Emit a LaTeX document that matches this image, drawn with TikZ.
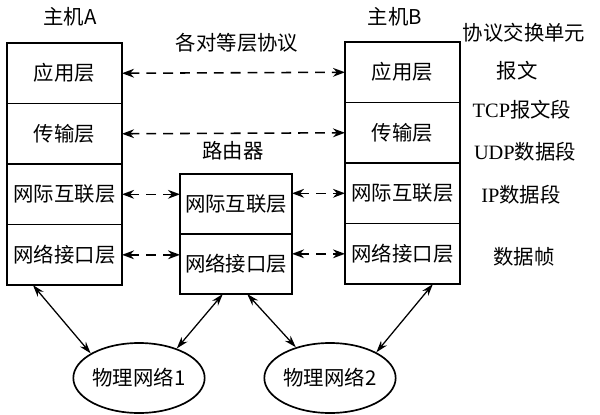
\documentclass[tikz,border=0pt]{standalone}
\usepackage{fontspec}
\setmainfont{Liberation Serif}
\newfontfamily\cjk{Noto Sans CJK SC}
\usetikzlibrary{arrows.meta, positioning, shapes.geometric}
\tikzset{
  layer/.style={draw, line width=1.2pt, outer sep=0pt, inner sep=0pt,
                font=\cjk\fontsize{14.5}{16}\selectfont,
                minimum width=2.875cm, minimum height=1.5125cm},
  netbox/.style={draw, ellipse, line width=1.2pt, inner sep=0pt,
                 font=\cjk\fontsize{14.5}{16}\selectfont,
                 minimum width=2.85cm, minimum height=1.75cm},
  txt/.style={font=\cjk\fontsize{14.5}{16}\selectfont, inner sep=0pt},
  peer/.style={{Stealth[length=3mm, width=2.2mm]}-{Stealth[length=3mm, width=2.2mm]},
               dash pattern=on 7pt off 5pt, line width=1.1pt},
  link/.style={{Stealth[length=3mm, width=1.9mm]}-{Stealth[length=3mm, width=1.9mm]},
               line width=0.9pt}
}

\begin{document}
\begin{tikzpicture}[x=0.025cm, y=-0.025cm]
\useasboundingbox (0,0) rectangle (600,415);

% Host A
\node[layer, anchor=north west] (a1) at (7,43) {应用层};
\node[layer, below=0cm of a1] (a2) {传输层};
\node[layer, below=0cm of a2] (a3) {网际互联层};
\node[layer, below=0cm of a3] (a4) {网络接口层};

% Host B
\node[layer, anchor=north west] (b1) at (345,42) {应用层};
\node[layer, below=0cm of b1] (b2) {传输层};
\node[layer, below=0cm of b2] (b3) {网际互联层};
\node[layer, below=0cm of b3] (b4) {网络接口层};

% Router
\node[layer, minimum width=2.8cm, minimum height=1.5cm, anchor=north west] (r1) at (180,174) {网际互联层};
\node[layer, minimum width=2.8cm, minimum height=1.5cm, below=0cm of r1] (r2) {网络接口层};

% Physical networks
\node[netbox] (n1) at (139,378) {物理网络1};
\node[netbox] (n2) at (330,378) {物理网络2};

% Titles
\node[txt] (ta) at (70,17) {主机A};
\node[txt] (tb) at (395,17) {主机B};
\node[txt] (tp) at (237,43) {各对等层协议};
\node[txt] (tr) at (233,151) {路由器};

% Protocol data units
\node[txt] (u0) at (524,33) {协议交换单元};
\node[txt] (u1) at (517,71) {报文};
\node[txt] (u2) at (522,110) {{\rmfamily TCP}报文段};
\node[txt] (u3) at (525,152) {{\rmfamily UDP}数据段};
\node[txt] (u4) at (521,195) {{\rmfamily IP}数据段};
\node[txt] (u5) at (524,257) {数据帧};

% Peer arrows
\draw[peer] (a1.east) -- (b1.west);
\draw[peer] (a2.east) -- (b2.west);
\draw[peer] (a3.east) -- (a3.east -| r1.west);
\draw[peer] (b3.west -| r1.east) -- (b3.west);
\draw[peer] (a4.east) -- (a4.east -| r2.west);
\draw[peer] (b4.west -| r2.east) -- (b4.west);

% Links to networks
\draw[link] ([xshift=-0.79cm]a4.south) -- (n1.153);
\draw[link] ([xshift=-0.33cm]r2.south) -- (n1.38);
\draw[link] ([xshift=0.28cm]r2.south) -- (n2.138);
\draw[link] ([xshift=0.76cm]b4.south) -- (n2.29);

\end{tikzpicture}
\end{document}
